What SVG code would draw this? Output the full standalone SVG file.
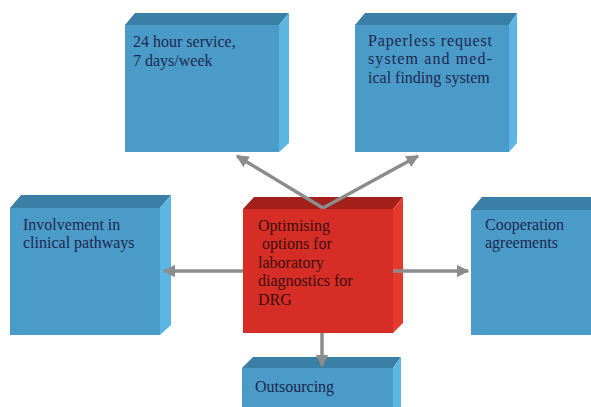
<svg xmlns="http://www.w3.org/2000/svg" width="591" height="407" viewBox="0 0 591 407">
<style>
.front{fill:#4b9bc9}
.top{fill:#3a7fa6}
.side{fill:#5bb6e3}
.rfront{fill:#d62e26}
.rtop{fill:#a4211b}
.rside{fill:#e53a2d}
text{font-family:'Liberation Serif','DejaVu Serif',serif;font-size:16px}
.t{fill:#1d2850}
.rt{fill:#3a0d0a}
.con{stroke:#8c8c8c;stroke-width:3.5;fill:none}
</style>
<defs>
<marker id="ah" viewBox="0 0 10 10" refX="9" refY="5" markerWidth="3.6" markerHeight="3.6" orient="auto" markerUnits="strokeWidth">
<path d="M0,0 L10,5 L0,10 Z" fill="#8c8c8c"/>
</marker>
</defs>
<rect width="591" height="407" fill="#ffffff"/>
<g id="node-24hour">
<path class="top" d="M125,25 L135,13 L289,13 L279,25 Z"/>
<path class="side" d="M279,25 L289,13 L289,143 L279,152 Z"/>
<rect class="front" x="125" y="25" width="154" height="127"/>
<text class="t" x="133" y="47">24 hour service,</text>
<text class="t" x="133" y="66">7 days/week</text>
</g>
<g id="node-paperless">
<path class="top" d="M355,25 L365,13 L517,13 L509,25 Z"/>
<path class="side" d="M509,25 L517,13 L517,143 L509,152 Z"/>
<rect class="front" x="355" y="25" width="154" height="127"/>
<text class="t" x="368" y="46" textLength="124" lengthAdjust="spacing">Paperless request</text>
<text class="t" x="368" y="64" textLength="124" lengthAdjust="spacing">system and med-</text>
<text class="t" x="368" y="83">ical finding system</text>
</g>
<g id="node-involvement">
<path class="top" d="M10,208 L21,195 L171,195 L160,208 Z"/>
<path class="side" d="M160,208 L171,195 L171,325 L160,335 Z"/>
<rect class="front" x="10" y="208" width="150" height="127"/>
<text class="t" x="23" y="230">Involvement in</text>
<text class="t" x="23" y="248">clinical pathways</text>
</g>
<g id="node-optimising">
<path class="rtop" d="M243,209 L254,197 L403,197 L393,209 Z"/>
<path class="rside" d="M393,209 L403,197 L403,323 L393,333 Z"/>
<rect class="rfront" x="243" y="209" width="150" height="124"/>
<text class="rt" x="258" y="231">Optimising</text>
<text class="rt" x="262" y="249">options for</text>
<text class="rt" x="258" y="268">laboratory</text>
<text class="rt" x="258" y="286">diagnostics for</text>
<text class="rt" x="258" y="305">DRG</text>
</g>
<g id="node-cooperation">
<path class="top" d="M471,210 L482,197 L600,197 L600,210 Z"/>
<rect class="front" x="471" y="210" width="130" height="125"/>
<text class="t" x="485" y="230">Cooperation</text>
<text class="t" x="485" y="248">agreements</text>
</g>
<g id="node-outsourcing">
<path class="top" d="M242,368 L253,357 L401,357 L393,368 Z"/>
<path class="side" d="M393,368 L401,357 L401,410 L393,410 Z"/>
<rect class="front" x="242" y="368" width="151" height="42"/>
<text class="t" x="255" y="392">Outsourcing</text>
</g>
<g id="connectors">
<path class="con" d="M323,208 L237,156" marker-end="url(#ah)"/>
<path class="con" d="M323,208 L418,156" marker-end="url(#ah)"/>
<path class="con" d="M243,271 L164,271" marker-end="url(#ah)"/>
<path class="con" d="M393,271 L468,271" marker-end="url(#ah)"/>
<path class="con" d="M322,333 L322,366" marker-end="url(#ah)"/>
</g>
</svg>
